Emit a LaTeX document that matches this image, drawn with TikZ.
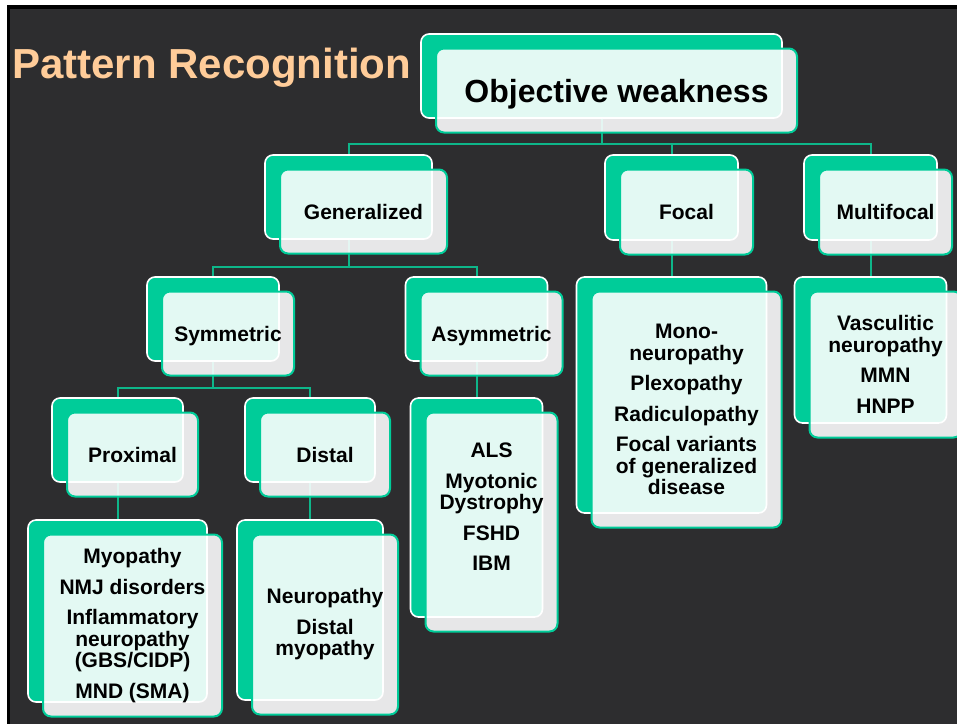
\documentclass[tikz,border=0pt]{standalone}
\usepackage{fontspec}
\setmainfont{Liberation Sans}
\definecolor{sgreen}{RGB}{0,204,153}
\definecolor{slidebg}{RGB}{45,45,47}
\definecolor{peach}{RGB}{255,204,153}
\definecolor{linegreen}{RGB}{14,182,138}
\begin{document}
\begin{tikzpicture}[x=1pt,y=-1pt,
  backbox/.style={draw=white,line width=1.6pt,fill=sgreen,rounded corners=8pt,inner sep=0pt},
  frontbox/.style={draw=sgreen,line width=2pt,fill=white,fill opacity=0.89,text opacity=1,
    rounded corners=8pt,inner sep=0pt,align=center,font=\fontsize{21}{21.5}\selectfont\bfseries},
  oneline/.style={text depth=0pt},
  bodytext/.style={align=center,inner sep=0pt,font=\fontsize{21}{21.5}\selectfont\bfseries},
  link/.style={draw=linegreen,line width=2pt},
  titletext/.style={text=peach,inner sep=0pt,font=\fontsize{42}{50}\selectfont\bfseries}]
\useasboundingbox (0,0) rectangle (957,724);
\clip (0,0) rectangle (957,724);
% slide frame and background
\fill[white] (0,0) rectangle (957,724);
\fill[black] (7,5) rectangle (957,724);
\fill[slidebg] (10,9) rectangle (957,724);
% title
\node[titletext,anchor=base west] (title) at (12,78) {Pattern Recognition};
% back boxes
\node[backbox,minimum width=361pt,minimum height=84pt] (ow)  at (601.5,76) {};
\node[backbox,minimum width=167pt,minimum height=84pt] (gen) at (348.5,197) {};
\node[backbox,minimum width=133pt,minimum height=85pt] (foc) at (671.5,197.5) {};
\node[backbox,minimum width=133pt,minimum height=85pt] (mul) at (870.5,197.5) {};
\node[backbox,minimum width=132pt,minimum height=84pt] (sym) at (213,319) {};
\node[backbox,minimum width=142pt,minimum height=84pt] (asy) at (476.5,319) {};
\node[backbox,minimum width=131pt,minimum height=84pt] (prox) at (117.5,440) {};
\node[backbox,minimum width=130pt,minimum height=84pt] (dist) at (310,440) {};
\node[backbox,minimum width=179pt,minimum height=182pt] (pl) at (117.5,611) {};
\node[backbox,minimum width=146pt,minimum height=180pt] (dl) at (310,610) {};
\node[backbox,minimum width=132pt,minimum height=219pt] (al) at (476.5,507.5) {};
\node[backbox,minimum width=190pt,minimum height=236pt] (fl) at (671.5,395) {};
\node[backbox,minimum width=152pt,minimum height=146pt] (ml) at (870.5,350) {};
% connectors
\draw[link] (ow.south) -- ++(0,25) -| (gen.north);
\draw[link] (ow.south) -- ++(0,25) -| (foc.north);
\draw[link] (ow.south) -- ++(0,25) -| (mul.north);
\draw[link] (gen.south) -- ++(0,27) -| (sym.north);
\draw[link] (gen.south) -- ++(0,27) -| (asy.north);
\draw[link] (sym.south) -- ++(0,26) -| (prox.north);
\draw[link] (sym.south) -- ++(0,26) -| (dist.north);
\draw[link] (prox.south) -- (pl.north);
\draw[link] (dist.south) -- (dl.north);
\draw[link] (asy.south) -- (al.north);
\draw[link] (foc.south) -- (fl.north);
\draw[link] (mul.south) -- (ml.north);
% front boxes
\node[frontbox,oneline,minimum width=361pt,minimum height=84pt,font=\fontsize{32}{36}\selectfont\bfseries] (owf) at ([shift={(15,14.5)}]ow.center) {Objective weakness};
\node[frontbox,oneline,minimum width=167pt,minimum height=84pt] (genf) at ([shift={(15,14.5)}]gen.center) {Generalized};
\node[frontbox,oneline,minimum width=133pt,minimum height=85pt] (focf) at ([shift={(15,14.5)}]foc.center) {Focal};
\node[frontbox,oneline,minimum width=133pt,minimum height=85pt] (mulf) at ([shift={(15,14.5)}]mul.center) {Multifocal};
\node[frontbox,oneline,minimum width=132pt,minimum height=84pt] (symf) at ([shift={(15,14.5)}]sym.center) {Symmetric};
\node[frontbox,oneline,minimum width=142pt,minimum height=84pt] (asyf) at ([shift={(15,14.5)}]asy.center) {Asymmetric};
\node[frontbox,oneline,minimum width=131pt,minimum height=84pt] (proxf) at ([shift={(15,14.5)}]prox.center) {Proximal};
\node[frontbox,oneline,minimum width=130pt,minimum height=84pt] (distf) at ([shift={(15,14.5)}]dist.center) {Distal};
\node[frontbox,minimum width=179pt,minimum height=182pt] (plf) at ([shift={(15,14.5)}]pl.center)
  {Myopathy\\[9pt]NMJ disorders\\[9pt]Inflammatory\\neuropathy\\(GBS/CIDP)\\[9pt]MND (SMA)};
\node[frontbox,minimum width=146pt,minimum height=180pt] (dlf) at ([shift={(15,14.5)}]dl.center)
  {Neuropathy\\[9pt]Distal\\myopathy};
\node[frontbox,minimum width=132pt,minimum height=219pt] (alf) at ([shift={(15,14.5)}]al.center) {};
\node[bodytext] (alt) at (491.5,507) {ALS\\[9pt]Myotonic\\Dystrophy\\[9pt]FSHD\\[9pt]IBM};
\node[frontbox,minimum width=190pt,minimum height=236pt] (flf) at ([shift={(15,14.5)}]fl.center)
  {Mono-\\neuropathy\\[9pt]Plexopathy\\[9pt]Radiculopathy\\[9pt]Focal variants\\of generalized\\disease};
\node[frontbox,minimum width=152pt,minimum height=146pt] (mlf) at ([shift={(15,14.5)}]ml.center)
  {Vasculitic\\neuropathy\\[9pt]MMN\\[9pt]HNPP};
\end{tikzpicture}
\end{document}
